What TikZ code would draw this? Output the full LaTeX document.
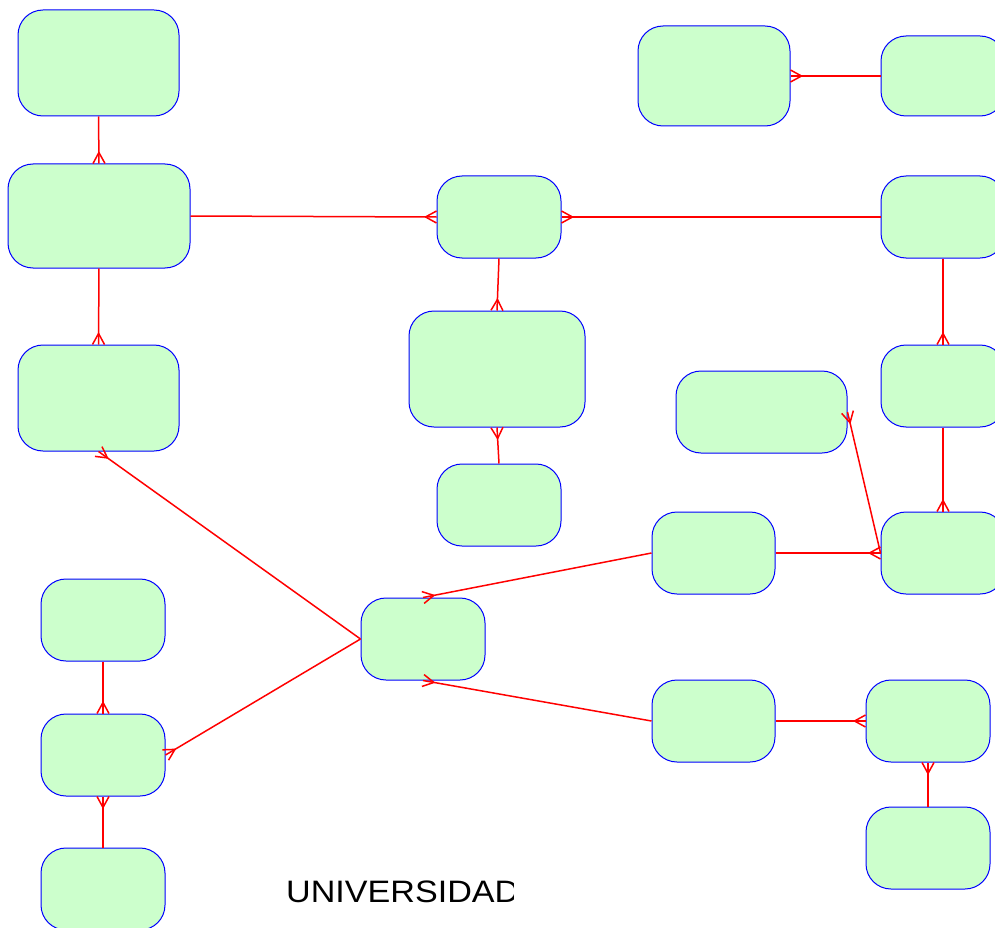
\documentclass[tikz,border=0pt]{standalone}
\usepackage{fontspec}
\setmainfont{Liberation Sans}
\usetikzlibrary{calc}

% Entity box and relationship line styles
\tikzset{
  entity/.style={draw=blue, line width=1pt, fill=green!20, rounded corners=25pt,
                 inner sep=0pt, rectangle},
  link/.style={draw=red, line width=1.5pt, line join=round}
}

% Relationship line from #1 to #2 with a crow's foot at #2
\newcommand\crowline[2]{%
  \draw[link] (#1) -- (#2);
  \draw[link] ($(#2)!6pt!90:(#1)$) -- ($(#2)!11pt!(#1)$) -- ($(#2)!6pt!-90:(#1)$);
}

\begin{document}
\begin{tikzpicture}[x=1pt, y=-1pt]
\useasboundingbox (0,0) rectangle (995,928);
\clip (0,0) rectangle (995,928);

% entities
\node[entity, minimum width=161pt, minimum height=106pt] (A) at (98.5,63) {};
\node[entity, minimum width=182pt, minimum height=104pt] (B) at (99,216) {};
\node[entity, minimum width=161pt, minimum height=106pt] (C) at (98.5,398) {};
\node[entity, minimum width=124pt, minimum height=82pt]  (D) at (499,217) {};
\node[entity, minimum width=176pt, minimum height=116pt] (E) at (497,369) {};
\node[entity, minimum width=124pt, minimum height=82pt]  (F) at (499,505) {};
\node[entity, minimum width=152pt, minimum height=100pt] (G) at (714,76) {};
\node[entity, minimum width=124pt, minimum height=80pt]  (H) at (943,76) {};
\node[entity, minimum width=124pt, minimum height=82pt]  (I) at (943,217) {};
\node[entity, minimum width=124pt, minimum height=82pt]  (J) at (943,386) {};
\node[entity, minimum width=171pt, minimum height=82pt]  (K) at (761.5,412) {};
\node[entity, minimum width=124pt, minimum height=82pt]  (L) at (943,553) {};
\node[entity, minimum width=123pt, minimum height=82pt]  (M) at (713.5,553) {};
\node[entity, minimum width=124pt, minimum height=82pt]  (N) at (423,639) {};
\node[entity, minimum width=124pt, minimum height=82pt]  (O) at (103,620) {};
\node[entity, minimum width=124pt, minimum height=82pt]  (P) at (103,755) {};
\node[entity, minimum width=124pt, minimum height=82pt]  (Q) at (103,889) {};
\node[entity, minimum width=123pt, minimum height=82pt]  (R) at (713.5,721) {};
\node[entity, minimum width=124pt, minimum height=82pt]  (S) at (928,721) {};
\node[entity, minimum width=124pt, minimum height=82pt]  (T) at (928,848) {};

% relationships
\crowline{A.south}{B.north}
\crowline{B.east}{D.west}
\crowline{I.west}{D.east}
\crowline{D.south}{E.north}
\crowline{F.north}{E.south}
\crowline{B.south}{C.north}
\crowline{H.west}{G.east}
\crowline{I.south}{J.north}
\crowline{J.south}{L.north}
\crowline{L.west}{K.east}
\crowline{M.east}{L.west}
\crowline{M.west}{N.north}
\crowline{R.west}{N.south}
\crowline{R.east}{S.west}
\crowline{T.north}{S.south}
\crowline{N.west}{C.south}
\crowline{N.west}{P.east}
\crowline{O.south}{P.north}
\crowline{Q.north}{P.south}

% title, cut off at the right
\begin{scope}
  \clip (0,850) rectangle (513,928);
  \node[anchor=base west, inner sep=0pt, xscale=1.1, font=\fontsize{31}{37}\selectfont] (title) at (286,902) {UNIVERSIDAD};
\end{scope}
\end{tikzpicture}
\end{document}
